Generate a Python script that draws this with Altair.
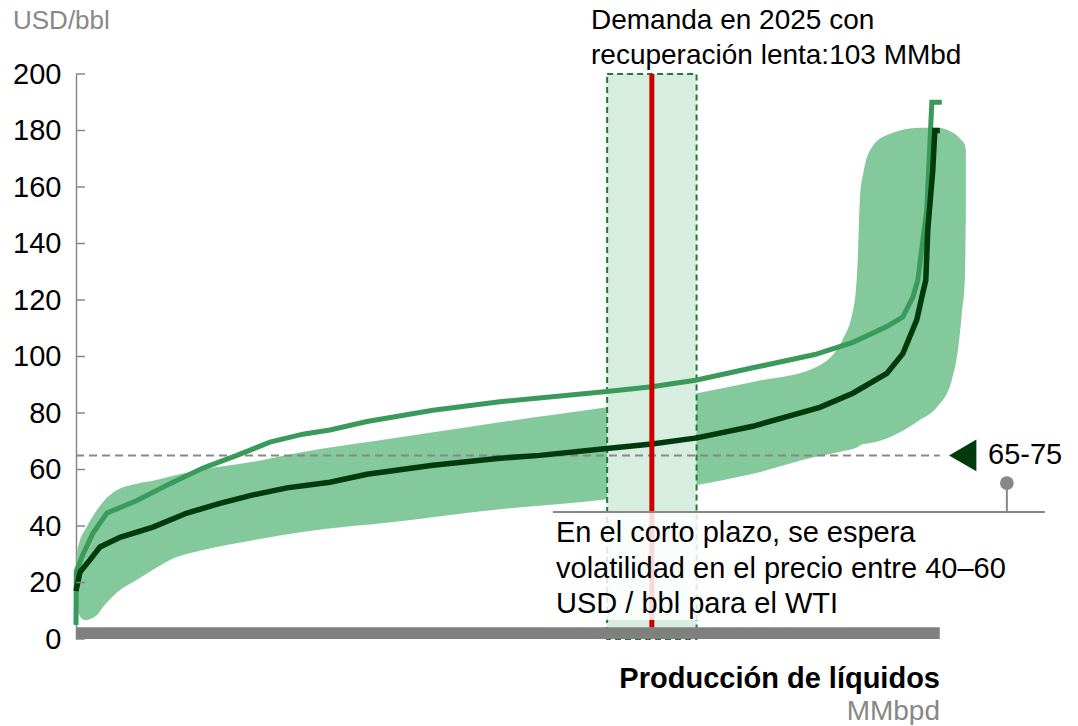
import altair as alt
import pandas as pd

# ---------------- data ----------------
# x in MMbpd, y in USD/bbl
dark_x = [0.0, 0.72, 2.50, 4.29, 7.87, 13.77, 19.85, 25.75, 31.65, 37.73, 45.42, 52.04,
          63.84, 75.82, 82.98, 94.96, 103.0, 111.05, 121.07, 133.05, 138.95, 145.03,
          147.89, 150.39, 151.47, 152.00, 152.36, 153.25, 153.61, 154.51]
dark_y = [17, 23.7, 28, 32.6, 36, 39.6, 44.6, 48, 51, 53.5, 55.5, 58.3,
          61.5, 64, 65, 67.4, 69, 71.2, 75.3, 82, 87, 94,
          101, 113, 122.6, 127, 145, 166, 180, 180]

green_x = [0.0, 0.05, 1.25, 3.04, 5.54, 10.91, 16.81, 22.71, 28.79, 34.69, 40.59, 45.42,
           52.04, 63.84, 75.82, 94.96, 103.0, 111.05, 121.07, 132.15, 138.95, 145.03,
           147.89, 149.68, 150.57, 152.18, 153.08, 154.86]
green_y = [5, 24, 30, 37.5, 44.6, 49, 55, 60.5, 65, 69.7, 72.5, 74,
           77, 81, 84, 87.6, 89.3, 91.7, 96, 100.7, 105, 110.6,
           114, 121, 127, 152, 190, 190]

band_x = [0.0, 0.18, 0.72, 1.61, 3.76, 4.83, 7.33, 10.91, 13.77, 16.81, 22.71, 31.65,
          40.06, 57.94, 75.82, 94.96, 111.05, 121.07, 132.15, 137.16, 139.31, 139.84,
          140.2, 140.92, 142.35, 145.03, 150.93, 153.97, 156.65, 157.73, 158.44, 158.98, 159.16]
band_lo = [15, 11.3, 8, 6.7, 8.5, 11.3, 16.5, 21, 24.5, 28, 31.5, 35,
           37.8, 41.7, 45.9, 49.5, 54.5, 58.5, 64.4, 66.5, 67.5, 68,
           68.5, 69, 69.5, 71, 77.5, 82, 91.7, 102, 115, 127, 150]
band_hi = [22, 30, 35, 38.6, 45.7, 48.5, 52.7, 55, 56, 57.5, 60, 62.7,
           66, 71.4, 76.7, 82, 87, 91, 96, 106, 120, 135,
           155, 166, 174, 178.4, 181, 181, 179.5, 178, 176.5, 175, 173]

y_ticks = [0, 20, 40, 60, 80, 100, 120, 140, 160, 180, 200]

demand = 103
demand_lo, demand_hi = 95, 111
ref_price = 65
x_end = 154.5
x_max = 173.5

demand_text = ["Demanda en 2025 con", "recuperación lenta:103 MMbd"]
note_text = ["En el corto plazo, se espera",
             "volatilidad en el precio entre 40–60",
             "USD / bbl para el WTI"]
range_label = "65-75"
y_unit = "USD/bbl"
x_title = "Producción de líquidos"
x_unit = "MMbpd"

# ---------------- styling ----------------
FONT = "Liberation Sans"
FS = 29
GRAY = "#888888"
xs = alt.Scale(domain=[0, x_max], nice=False, zero=False)
ys = alt.Scale(domain=[0, 200], nice=False, zero=False)
yaxis = alt.Axis(values=y_ticks, ticks=False, labelPadding=15, labelFontSize=FS,
                 labelFont=FONT, labelColor="black", domainColor=GRAY, domainWidth=1.5,
                 grid=False, title=None)


def X(f):
    return alt.X(f, type="quantitative", scale=xs, axis=None, title=None)


def Y(f):
    return alt.Y(f, type="quantitative", scale=ys, axis=yaxis, title=None)


band_df = pd.DataFrame({"x": band_x, "lo": band_lo, "hi": band_hi})
dark_df = pd.DataFrame({"x": dark_x, "y": dark_y, "i": range(len(dark_x))})
green_df = pd.DataFrame({"x": green_x, "y": green_y, "i": range(len(green_x))})

band = alt.Chart(band_df).mark_area(color="#84c99b", interpolate="monotone").encode(
    x=X("x"), y=Y("lo"), y2="hi")

rect_df = pd.DataFrame({"x": [demand_lo], "x2": [demand_hi], "y": [0], "y2": [200]})
drect = alt.Chart(rect_df).mark_rect(fill="#d6ede0", stroke="#217a34", strokeDash=[6, 4],
                                     strokeWidth=2).encode(x=X("x"), x2="x2", y=Y("y"), y2="y2")

ref_df = pd.DataFrame({"x": [0], "x2": [x_end], "y": [ref_price]})
ref_rule = alt.Chart(ref_df).mark_rule(color=GRAY, strokeWidth=2, strokeDash=[8, 5]).encode(
    x=X("x"), x2="x2", y=Y("y"))

green = alt.Chart(green_df).mark_line(color="#3a9a5b", strokeWidth=5).encode(
    x=X("x"), y=Y("y"), order="i:Q")
dark = alt.Chart(dark_df).mark_line(color="#013a0c", strokeWidth=5.5).encode(
    x=X("x"), y=Y("y"), order="i:Q")

red_df = pd.DataFrame({"x": [demand], "y": [4], "y2": [200]})
red = alt.Chart(red_df).mark_rule(color="#cc0000", strokeWidth=5).encode(
    x=X("x"), y=Y("y"), y2="y2")

box_df = pd.DataFrame({"x": [85.3], "x2": [173.3], "y": [6.7], "y2": [45]})
box = alt.Chart(box_df).mark_rect(fill="white", opacity=0.85).encode(
    x=X("x"), x2="x2", y=Y("y"), y2="y2")

line_df = pd.DataFrame({"x": [85.3], "x2": [173.3], "y": [45]})
ann_line = alt.Chart(line_df).mark_rule(color=GRAY, strokeWidth=2).encode(
    x=X("x"), x2="x2", y=Y("y"))

pin_df = pd.DataFrame({"x": [166.5], "y": [45], "y2": [55.2]})
pin_stem = alt.Chart(pin_df).mark_rule(color=GRAY, strokeWidth=2).encode(
    x=X("x"), y=Y("y"), y2="y2")
pin_head = alt.Chart(pin_df).mark_circle(color=GRAY, size=190, opacity=1).encode(
    x=X("x"), y=Y("y2"))

tri_df = pd.DataFrame({"x": [158.6], "y": [ref_price]})
tri = alt.Chart(tri_df).mark_point(shape="triangle-left", filled=True, size=1000,
                                   color="#013a0c", opacity=1).encode(x=X("x"), y=Y("y"))

bar_df = pd.DataFrame({"x": [0], "x2": [x_end], "y": [0], "y2": [4.2]})
xbar = alt.Chart(bar_df).mark_rect(color="#808080").encode(
    x=X("x"), x2="x2", y=Y("y"), y2="y2")

tick_df = pd.DataFrame({"y": y_ticks})
ticks = alt.Chart(tick_df).mark_rule(color=GRAY, strokeWidth=1.5).encode(
    y=Y("y"), x=alt.value(0), x2=alt.value(9))

one = pd.DataFrame({"a": [0]})


def label(txt, x, y, **kw):
    base = dict(font=FONT, fontSize=FS, align="left", baseline="alphabetic", color="black")
    base.update(kw)
    return alt.Chart(one).mark_text(text=txt, **base).encode(x=alt.value(x), y=y)


t_unit = label(y_unit, -63, alt.value(-45), color=GRAY, fontSize=26)
t_demand = label(demand_text, 515, alt.value(-45), lineHeight=35, fontSize=28)
t_range = label(range_label, 912, alt.Y(datum=ref_price, scale=ys, axis=yaxis, title=None),
                baseline="middle")
t_note = label(note_text, 480, alt.value(468), lineHeight=35.5)
t_xtitle = label(x_title, 864, alt.value(614), align="right", fontWeight="bold")
t_xunit = label(x_unit, 864, alt.value(646), align="right", color=GRAY, fontSize=28)

chart = alt.layer(
    band, drect, ref_rule, green, dark, red, box, ann_line, pin_stem, pin_head, tri,
    xbar, ticks, t_unit, t_demand, t_range, t_note, t_xtitle, t_xunit
).properties(
    width=970, height=565,
    autosize=alt.AutoSizeParams(type="none"),
    padding={"left": 68, "top": 66, "right": 16, "bottom": 86},
    background="white",
).configure_view(stroke=None)

chart.save("out.html", embed_options={"renderer": "svg", "actions": False})
